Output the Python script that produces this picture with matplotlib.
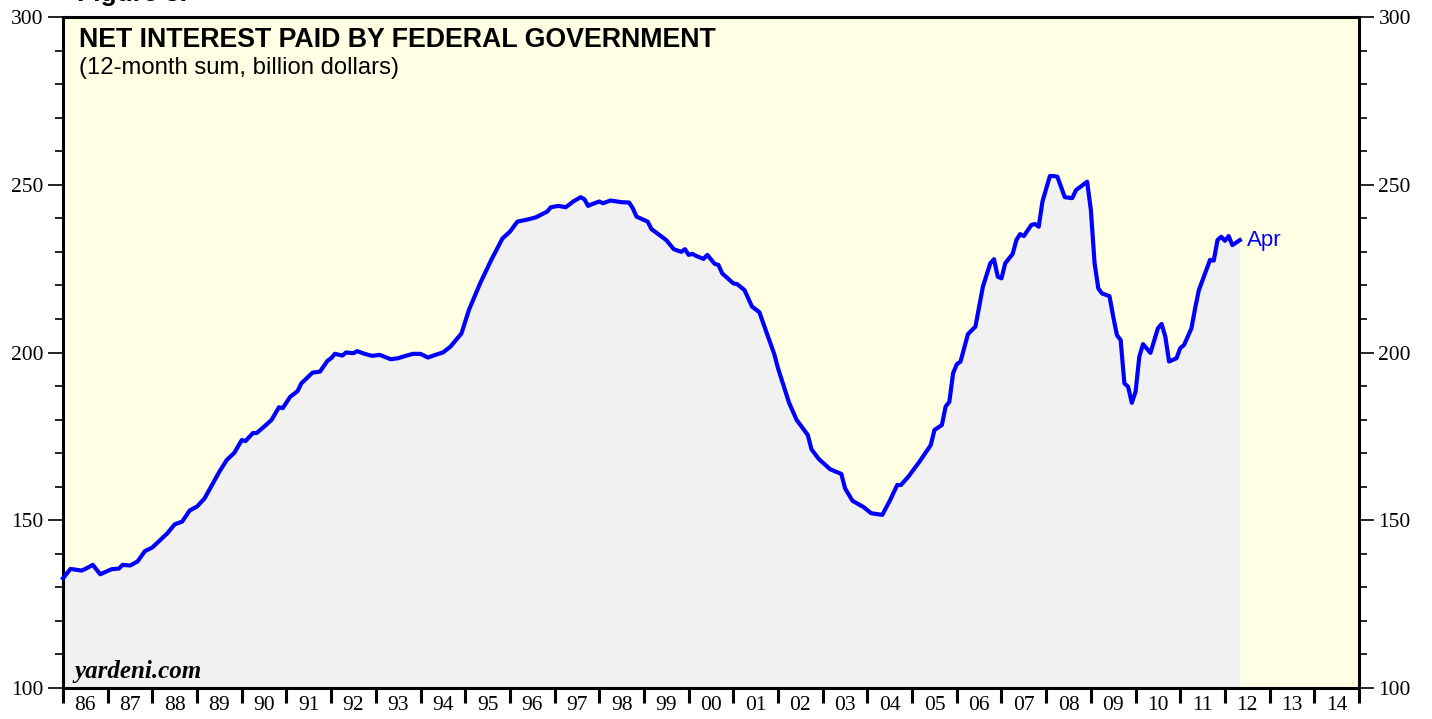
import matplotlib.pyplot as plt
from matplotlib.ticker import MultipleLocator, FixedLocator, NullFormatter
import numpy as np

# month-end readings, 12-month sum of net interest (billion $)
months = [
    "1985-12", "1986-02", "1986-05", "1986-06", "1986-08", "1986-10",
    "1987-01", "1987-03", "1987-04", "1987-06", "1987-08", "1987-10", "1987-12",
    "1988-04", "1988-06", "1988-08", "1988-10", "1988-12",
    "1989-02", "1989-04", "1989-06", "1989-08", "1989-10", "1989-12",
    "1990-01", "1990-03", "1990-04", "1990-06", "1990-08", "1990-10", "1990-11",
    "1991-01", "1991-03", "1991-04", "1991-07", "1991-09", "1991-11", "1991-12",
    "1992-01", "1992-03", "1992-04", "1992-06", "1992-07", "1992-09", "1992-11",
    "1993-01", "1993-04", "1993-06", "1993-08", "1993-10", "1993-12",
    "1994-02", "1994-04", "1994-06", "1994-08", "1994-11",
    "1995-01", "1995-04", "1995-07", "1995-10", "1995-12",
    "1996-02", "1996-05", "1996-07", "1996-10", "1996-11",
    "1997-01", "1997-03", "1997-05", "1997-07", "1997-08", "1997-09", "1997-10", "1997-12",
    "1998-01", "1998-03", "1998-06", "1998-08", "1998-09", "1998-10",
    "1999-01", "1999-02", "1999-06", "1999-08", "1999-10", "1999-11", "1999-12",
    "2000-01", "2000-02", "2000-04", "2000-05", "2000-07", "2000-08", "2000-09", "2000-12",
    "2001-01", "2001-03", "2001-05", "2001-07", "2001-09", "2001-11", "2001-12",
    "2002-01", "2002-03", "2002-05", "2002-08", "2002-09", "2002-11",
    "2003-02", "2003-05", "2003-06", "2003-08", "2003-11",
    "2004-01", "2004-04", "2004-06", "2004-08", "2004-09", "2004-11",
    "2005-02", "2005-05", "2005-06", "2005-08", "2005-09", "2005-10", "2005-11", "2005-12",
    "2006-01", "2006-03", "2006-05", "2006-06", "2006-07", "2006-09", "2006-10", "2006-11", "2006-12",
    "2007-01", "2007-03", "2007-04", "2007-05", "2007-06", "2007-08", "2007-09", "2007-10", "2007-11",
    "2008-01", "2008-02", "2008-03", "2008-05", "2008-07", "2008-08", "2008-11", "2008-12",
    "2009-01", "2009-02", "2009-03", "2009-05", "2009-06", "2009-07", "2009-08", "2009-09",
    "2009-10", "2009-11", "2009-12",
    "2010-01", "2010-02", "2010-04", "2010-06", "2010-07", "2010-08", "2010-09", "2010-11", "2010-12",
    "2011-01", "2011-03", "2011-04", "2011-05", "2011-07", "2011-08", "2011-09", "2011-10",
    "2011-11", "2011-12",
    "2012-01", "2012-02", "2012-04",
]
interest = [
    132.7, 135.5, 135.0, 135.5, 136.7, 133.9,
    135.4, 135.6, 136.7, 136.5, 137.7, 140.8, 141.9,
    146.1, 148.8, 149.6, 152.9, 154.1,
    156.5, 160.5, 164.5, 168.0, 170.1, 173.9,
    173.6, 176.0, 176.0, 177.9, 179.9, 183.7, 183.4,
    186.8, 188.5, 190.8, 194.0, 194.3, 197.5, 198.3,
    199.6, 199.1, 200.0, 199.8, 200.4, 199.6, 199.0,
    199.3, 198.0, 198.3, 199.0, 199.6, 199.6,
    198.5, 199.3, 200.0, 201.7, 205.7,
    212.7, 220.6, 227.6, 234.0, 236.0,
    239.0, 239.7, 240.3, 242.0, 243.3,
    243.7, 243.3, 245.0, 246.3, 245.7, 243.7, 244.2, 245.0,
    244.5, 245.3, 244.8, 244.7, 243.0, 240.5,
    239.0, 236.8, 233.5, 230.8, 230.0, 230.8, 229.1,
    229.4, 228.8, 227.9, 229.1, 226.4, 226.1, 223.6, 220.6,
    220.4, 218.6, 213.7, 212.0, 205.7, 199.5, 195.3,
    191.8, 184.9, 179.9, 175.4, 171.1, 168.2,
    165.2, 163.8, 159.5, 155.8, 153.9,
    152.1, 151.6, 155.8, 160.5, 160.5, 163.0,
    167.5, 172.4, 176.9, 178.4, 183.9, 185.3, 193.8, 196.5,
    197.3, 205.5, 207.7, 213.7, 219.6, 226.6, 227.8, 222.6, 222.1,
    226.6, 229.4, 233.5, 235.3, 234.7, 238.0, 238.3, 237.5, 245.0,
    252.6, 252.6, 252.4, 246.3, 246.0, 248.4, 250.9, 242.5,
    226.6, 219.1, 217.6, 216.8, 210.7, 205.2, 203.7, 190.8,
    189.8, 185.0, 188.3,
    198.7, 202.5, 199.9, 207.2, 208.5, 204.7, 197.3, 198.3, 201.3,
    202.2, 207.2, 213.2, 218.6, 224.6, 227.6, 227.4, 233.5,
    234.5, 233.3,
    234.7, 232.0, 233.5,
]
years = list(range(1986, 2015))
year_labels = [f"{y % 100:02d}" for y in years]

x = np.array([int(m[:4]) + int(m[5:]) / 12 for m in months])
y = np.array(interest)

fig = plt.figure(figsize=(14.32, 7.19), dpi=100)
ax = fig.add_axes([63 / 1432, 31 / 719, 1296 / 1432, 671 / 719])
ax.set_facecolor("#ffffe3")

ax.fill_between(x, y, 100, color="#f1f1f1", lw=0)
ax.plot(x, y, color="#0000ff", lw=3.0, solid_joinstyle="round", clip_on=False, zorder=3)
ax.text(x[-1] + 0.15, y[-1], "Apr", color="#0000ff", fontsize=16,
        family="Liberation Sans", va="center", ha="left")

ax.set_xlim(1986, 2015)
ax.set_ylim(100, 300)

for s in ax.spines.values():
    s.set_linewidth(2.2)

# y axis, both sides
ax.yaxis.set_major_locator(MultipleLocator(50))
ax.yaxis.set_minor_locator(MultipleLocator(10))
ax.tick_params(axis="y", which="both", left=True, right=True, labelleft=True,
               labelright=True, direction="out", width=1.2)
ax.tick_params(axis="y", which="major", length=11, pad=3, labelsize=15.5)
ax.tick_params(axis="y", which="minor", length=5.5)
for lab in ax.get_yticklabels():
    lab.set_family("Liberation Serif")

# x axis: year boundaries as ticks, labels centred in each year
ax.xaxis.set_major_locator(FixedLocator(years + [2015]))
ax.xaxis.set_major_formatter(NullFormatter())
ax.xaxis.set_minor_locator(FixedLocator([yr + 0.5 for yr in years]))
ax.set_xticklabels(year_labels, minor=True)
ax.tick_params(axis="x", which="major", direction="out", length=11, width=2.2)
ax.tick_params(axis="x", which="minor", length=0, pad=6, labelsize=15.5)
for lab in ax.get_xticklabels(minor=True):
    lab.set_family("Liberation Serif")

ax.text(0.012, 0.985, "NET INTEREST PAID BY FEDERAL GOVERNMENT", transform=ax.transAxes,
        fontsize=19.3, fontweight="bold", family="Liberation Sans", va="top", ha="left")
ax.text(0.012, 0.940, "(12-month sum, billion dollars)", transform=ax.transAxes,
        fontsize=17.2, family="Liberation Sans", va="top", ha="left")
ax.text(0.009, 0.008, "yardeni.com", transform=ax.transAxes, fontsize=18,
        fontweight="bold", fontstyle="italic", family="Liberation Serif",
        va="bottom", ha="left")

fig.text(77 / 1432, 1 - 0.5 / 719, "Figure 3.", fontsize=19, fontweight="bold",
         family="Liberation Sans", va="baseline", ha="left")

fig.savefig("out.png", dpi=100)
